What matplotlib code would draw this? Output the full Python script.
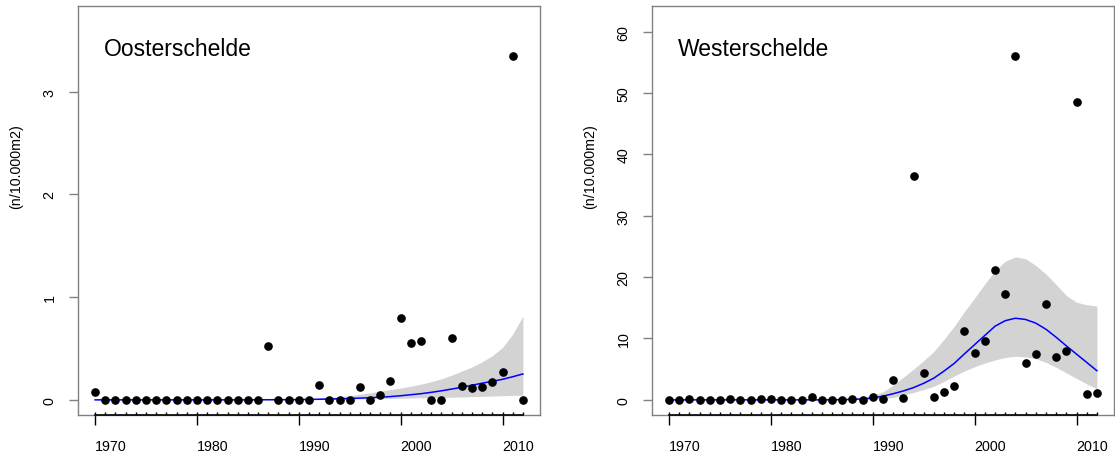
import matplotlib
matplotlib.use('Agg')
import matplotlib.pyplot as plt
import numpy as np

years = list(range(1970, 2013))
major_years = [1970, 1980, 1990, 2000, 2010]
major_labels = ["1970", "1980", "1990", "2000", "2010"]

# Oosterschelde observations (n/10.000m2)
oost_obs = [0.075, 0, 0, 0, 0, 0, 0, 0, 0, 0,
            0, 0, 0, 0, 0, 0, 0, 0.52, 0, 0,
            0, 0, 0.143, 0, 0, 0, 0.127, 0, 0.05, 0.185,
            0.80, 0.555, 0.575, 0, 0, 0.60, 0.138, 0.116, 0.124, 0.172,
            0.27, 3.35, 0]
oost_fit = [0, 0, 0, 0, 0, 0, 0, 0, 0, 0,
            0, 0, 0, 0, 0, 0, 0.001, 0.001, 0.002, 0.002,
            0.003, 0.004, 0.006, 0.008, 0.010, 0.013, 0.017, 0.021, 0.026, 0.032,
            0.040, 0.050, 0.060, 0.073, 0.088, 0.105, 0.122, 0.142, 0.162, 0.180,
            0.200, 0.225, 0.252]
oost_hi = [0.002, 0.002, 0.002, 0.002, 0.002, 0.002, 0.002, 0.002, 0.002, 0.002,
           0.002, 0.002, 0.002, 0.002, 0.002, 0.002, 0.003, 0.004, 0.005, 0.007,
           0.010, 0.013, 0.018, 0.024, 0.032, 0.042, 0.054, 0.068, 0.085, 0.100,
           0.115, 0.133, 0.153, 0.177, 0.205, 0.240, 0.280, 0.320, 0.370, 0.430,
           0.510, 0.640, 0.815]
oost_lo = [0, 0, 0, 0, 0, 0, 0, 0, 0, 0,
           0, 0, 0, 0, 0, 0, 0, 0, 0, 0,
           0.001, 0.002, 0.003, 0.004, 0.005, 0.006, 0.008, 0.010, 0.012, 0.014,
           0.016, 0.018, 0.020, 0.022, 0.024, 0.026, 0.028, 0.031, 0.034, 0.037,
           0.040, 0.043, 0.046]

# Westerschelde observations (n/10.000m2)
west_obs = [0, 0, 0.1, 0, 0, 0, 0.1, 0, 0, 0.1,
            0.1, 0, 0, 0, 0.4, 0, 0, 0, 0.1, 0,
            0.4, 0.1, 3.25, 0.3, 36.4, 4.45, 0.4, 1.3, 2.3, 11.2,
            7.65, 9.55, 21.1, 17.3, 56.1, 6.05, 7.4, 15.7, 7.05, 7.95,
            48.5, 0.9, 1.05]
west_fit = [0, 0, 0, 0, 0, 0, 0, 0, 0, 0,
            0, 0, 0, 0, 0, 0, 0.02, 0.04, 0.08, 0.15,
            0.3, 0.6, 1.0, 1.45, 2.0, 2.7, 3.55, 4.7, 5.95, 7.5,
            9.0, 10.5, 12.0, 12.9, 13.3, 13.1, 12.5, 11.5, 10.2, 8.8,
            7.45, 6.1, 4.75]
west_hi = [0.05, 0.05, 0.05, 0.05, 0.05, 0.05, 0.05, 0.05, 0.05, 0.05,
           0.05, 0.05, 0.05, 0.05, 0.05, 0.05, 0.1, 0.15, 0.25, 0.45,
           0.75, 1.3, 2.4, 3.7, 5.0, 6.4, 7.9, 9.9, 12.0, 14.4,
           16.6, 18.9, 21.0, 22.6, 23.3, 23.0, 21.9, 20.5, 18.8, 17.0,
           15.9, 15.5, 15.3]
west_lo = [0, 0, 0, 0, 0, 0, 0, 0, 0, 0,
           0, 0, 0, 0, 0, 0, 0, 0.01, 0.02, 0.05,
           0.1, 0.2, 0.4, 0.8, 1.2, 1.7, 2.2, 3.0, 3.9, 4.7,
           5.4, 6.0, 6.5, 6.9, 7.1, 7.0, 6.7, 6.1, 5.3, 4.4,
           3.5, 2.6, 1.8]

oost_yticks = [0, 1, 2, 3]
west_yticks = [0, 10, 20, 30, 40, 50, 60]
titles = ["Oosterschelde", "Westerschelde"]
ylabel = "(n/10.000m2)"

plt.rcParams['font.family'] = ['Liberation Sans', 'DejaVu Sans']

W, H = 1115, 460
fig = plt.figure(figsize=(W / 100, H / 100), dpi=100)
BOX_W, BOX_H = 462, 409
BOTTOM = 416


def panel(left_px, obs, fit, lo, hi, yticks, title):
    ax = fig.add_axes([left_px / W, (H - BOTTOM) / H, BOX_W / W, BOX_H / H])
    x = np.array(years)
    ax.fill_between(x, lo, hi, color='#D3D3D3', lw=0, zorder=1)
    ax.plot(x, fit, color='#0000FF', lw=1.1, zorder=2)
    ax.plot(x, obs, 'o', color='black', ms=5.2, zorder=3, clip_on=False)

    xr = x.max() - x.min()
    ax.set_xlim(x.min() - 0.04 * xr, x.max() + 0.04 * xr)
    top = 1.1 * max(obs)
    ax.set_ylim(-0.04 * top, 1.04 * top)

    for s in ax.spines.values():
        s.set_color('#808080')
        s.set_linewidth(1)

    ax.set_xticks(major_years)
    ax.set_xticks(years, minor=True)
    ax.xaxis.remove_overlapping_locs = False
    ax.set_xticklabels(major_labels, ha='left')
    ax.tick_params(axis='x', which='major', direction='out', length=7,
                   width=1, color='black', pad=10, labelsize=10.3)
    ax.tick_params(axis='x', which='minor', direction='in', length=2.3,
                   width=1, color='black')
    ax.plot([x.min(), x.max()], [0, 0], transform=ax.get_xaxis_transform(),
            color='black', lw=1.2, clip_on=False, zorder=5)

    ax.set_yticks(yticks)
    ax.set_yticklabels([str(v) for v in yticks], rotation=90, va='center')
    ax.tick_params(axis='y', direction='out', length=6.5, width=1,
                   color='#808080', pad=9, labelsize=10.3)

    ax.text(26 / BOX_W, 1 - 42 / BOX_H, title, transform=ax.transAxes,
            fontsize=16.5, va='center', ha='left')
    ax.text(-62 / BOX_W, 0.609, ylabel, transform=ax.transAxes, rotation=90,
            va='center', ha='center', fontsize=10.3)
    return ax


panel(78, oost_obs, oost_fit, oost_lo, oost_hi, oost_yticks, titles[0])
panel(652, west_obs, west_fit, west_lo, west_hi, west_yticks, titles[1])

fig.savefig('out.png', dpi=100)
